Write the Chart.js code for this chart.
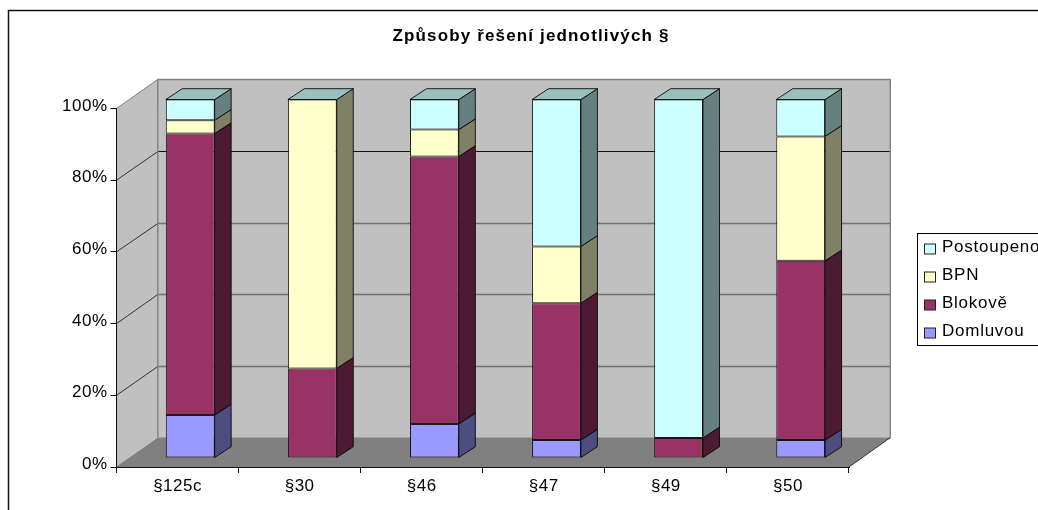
<!DOCTYPE html>
<html>
<head>
<meta charset="utf-8">
<style>html,body{margin:0;padding:0;background:#fff;overflow:hidden}canvas{display:block}</style>
<script src="https://cdn.jsdelivr.net/npm/chart.js@4"></script>
</head>
<body>
<canvas id="c" width="1038" height="510"></canvas>
<script>
const categories = ['§125c','§30','§46','§47','§49','§50'];
const domluvou   = [12, 0, 9.5, 5, 0, 5];
const blokove    = [78.5, 25, 74.6, 38.2, 5.6, 50];
const bpn        = [3.7, 75, 7.5, 15.8, 0, 34.7];
const postoupeno = [5.8, 0, 8.4, 41, 94.4, 10.3];
const yTicks     = [0, 20, 40, 60, 80, 100];
const titleText  = 'Způsoby řešení jednotlivých §';

const FONT = '"Liberation Sans", Arial, sans-serif';
const depth = {dx: 41.3, dy: 29.4};
const barShift = {dx: 12.7, dy: 9};
const barDepth = {dx: 16.5, dy: 10.8};
const TEXT_SPACING = '0.5px';

function shade(hex, f){
  const n = parseInt(hex.slice(1),16);
  const r = Math.round((n>>16&255)*f), g = Math.round((n>>8&255)*f), b = Math.round((n&255)*f);
  return `rgb(${r},${g},${b})`;
}
function poly(ctx, pts, fill, stroke, lw){
  ctx.beginPath();
  pts.forEach((p,i)=> i?ctx.lineTo(p[0],p[1]):ctx.moveTo(p[0],p[1]));
  ctx.closePath();
  if(fill){ctx.fillStyle=fill;ctx.fill();}
  if(stroke){ctx.strokeStyle=stroke;ctx.lineWidth=lw||1;ctx.stroke();}
}

const scene = {
  id:'scene',
  beforeDraw(chart){
    const ctx = chart.ctx, a = chart.chartArea, y = chart.scales.y;
    const L=a.left, R=a.right, T=a.top, B=a.bottom, dx=depth.dx, dy=depth.dy;
    // centre the title over the whole picture, with its own spacing
    const tb = chart.titleBlock;
    tb.left += 94.5; tb.right += 94.5;
    const drawTitle = tb.draw.bind(tb);
    tb.draw = function(){ ctx.letterSpacing='1.15px'; drawTitle(); ctx.letterSpacing=TEXT_SPACING; };
    ctx.save();
    // chart frame
    ctx.strokeStyle='#111'; ctx.lineWidth=1.5;
    ctx.beginPath(); ctx.moveTo(8.5,510); ctx.lineTo(8.5,10.5); ctx.lineTo(1038,10.5); ctx.stroke();
    // walls and floor
    poly(ctx,[[L+dx,T-dy],[R+dx,T-dy],[R+dx,B-dy],[L+dx,B-dy]],'#c0c0c0');
    poly(ctx,[[L,T],[L+dx,T-dy],[L+dx,B-dy],[L,B]],'#c0c0c0');
    poly(ctx,[[L,B],[L+dx,B-dy],[R+dx,B-dy],[R,B]],'#808080');
    // gridlines on side and back wall
    yTicks.forEach(v=>{
      const p=y.getPixelForValue(v), back=Math.round(p-dy)+0.5;
      const edge = v===0 || v===100, strong = v===80;
      ctx.strokeStyle = strong ? '#111' : (edge ? '#808080' : '#707070');
      ctx.lineWidth = strong ? 1 : (edge ? 1.4 : 1.5);
      ctx.beginPath(); ctx.moveTo(L+dx,back); ctx.lineTo(R+dx,back); ctx.stroke();
      ctx.strokeStyle = edge ? '#808080' : '#333';
      ctx.lineWidth = 1;
      ctx.beginPath(); ctx.moveTo(L,p); ctx.lineTo(L+dx,back); ctx.stroke();
    });
    // wall edges
    ctx.strokeStyle='#808080'; ctx.lineWidth=1.4;
    ctx.beginPath();
    ctx.moveTo(L+dx,B-dy); ctx.lineTo(L+dx,T-dy); ctx.moveTo(R+dx,T-dy); ctx.lineTo(R+dx,B-dy);
    ctx.stroke();
    ctx.strokeStyle='#333'; ctx.lineWidth=1;
    ctx.beginPath(); ctx.moveTo(R,B); ctx.lineTo(R+dx,B-dy); ctx.stroke();
    ctx.restore();
    ctx.letterSpacing=TEXT_SPACING;
  },
  beforeDatasetsDraw(chart){
    const ctx=chart.ctx;
    ctx.save();
    ctx.translate(barShift.dx,-barShift.dy);
    const d=barDepth, sets=chart.data.datasets, last=sets.length-1;
    sets.forEach((ds,i)=>{
      chart.getDatasetMeta(i).data.forEach((el,j)=>{
        const {x,y,base,width}=el.getProps(['x','y','base','width'],true);
        const r=x+width/2, l=x-width/2;
        if(ds.data[j]) poly(ctx,[[r,y],[r+d.dx,y-d.dy],[r+d.dx,base-d.dy],[r,base]],shade(ds.backgroundColor,0.5),'rgba(0,0,0,.85)',1);
        // the top face always takes the colour of the last series, even when it is empty
        if(i===last) poly(ctx,[[l,y],[l+d.dx,y-d.dy],[r+d.dx,y-d.dy],[r,y]],shade(ds.backgroundColor,0.75),'rgba(0,0,0,.85)',1);
      });
    });
  },
  afterDatasetsDraw(chart){ chart.ctx.restore(); },
  afterDraw(chart){
    const ctx=chart.ctx;
    ctx.save();
    ctx.strokeStyle='#000'; ctx.lineWidth=1;
    ctx.strokeRect(917.5,233.5,130,112);
    ctx.letterSpacing='0.75px';
    ctx.font='17px '+FONT; ctx.textBaseline='middle'; ctx.textAlign='left';
    const ds=chart.data.datasets;
    for(let i=ds.length-1,row=0;i>=0;i--,row++){
      const cy=248.5+row*28;
      ctx.fillStyle=ds[i].backgroundColor; ctx.fillRect(924.5,cy-4.5,11,10);
      ctx.strokeStyle='#222'; ctx.strokeRect(924.5,cy-4.5,11,10);
      ctx.fillStyle='#000'; ctx.fillText(ds[i].label,942,cy-1);
    }
    ctx.restore();
  }
};

const mk=(label,data,color)=>({label,data,backgroundColor:color,borderColor:'rgba(0,0,0,.85)',borderWidth:1,borderSkipped:false,categoryPercentage:1,barPercentage:0.4});

new Chart(document.getElementById('c'),{
  type:'bar',
  data:{labels:categories,datasets:[
    mk('Domluvou',domluvou,'#9999ff'),
    mk('Blokově',blokove,'#993366'),
    mk('BPN',bpn,'#ffffcc'),
    mk('Postoupeno',postoupeno,'#ccffff')
  ]},
  options:{
    responsive:false,animation:false,
    layout:{padding:{left:24,right:189,top:0,bottom:0}},
    plugins:{
      legend:{display:false},tooltip:{enabled:false},
      title:{display:true,text:titleText,color:'#000',font:{family:FONT,size:17,weight:'bold',lineHeight:1.2},padding:{top:26,bottom:62.1}}
    },
    scales:{
      x:{stacked:true,
        grid:{drawOnChartArea:false,tickColor:'#111',tickLength:6},
        border:{color:'#111'},
        ticks:{color:'#000',font:{family:FONT,size:17},padding:3,maxRotation:0},
        afterFit(s){s.height=43;}
      },
      y:{stacked:true,min:0,max:100,
        grid:{drawOnChartArea:false,tickColor:'#111',tickLength:6},
        border:{color:'#111'},
        afterBuildTicks(s){s.ticks=yTicks.map(v=>({value:v}));},
        ticks:{color:'#000',font:{family:FONT,size:17},padding:3,labelOffset:-2.5,callback:v=>v+'%'},
        afterFit(s){s.width=92.5;}
      }
    }
  },
  plugins:[scene]
});
</script>
</body>
</html>
